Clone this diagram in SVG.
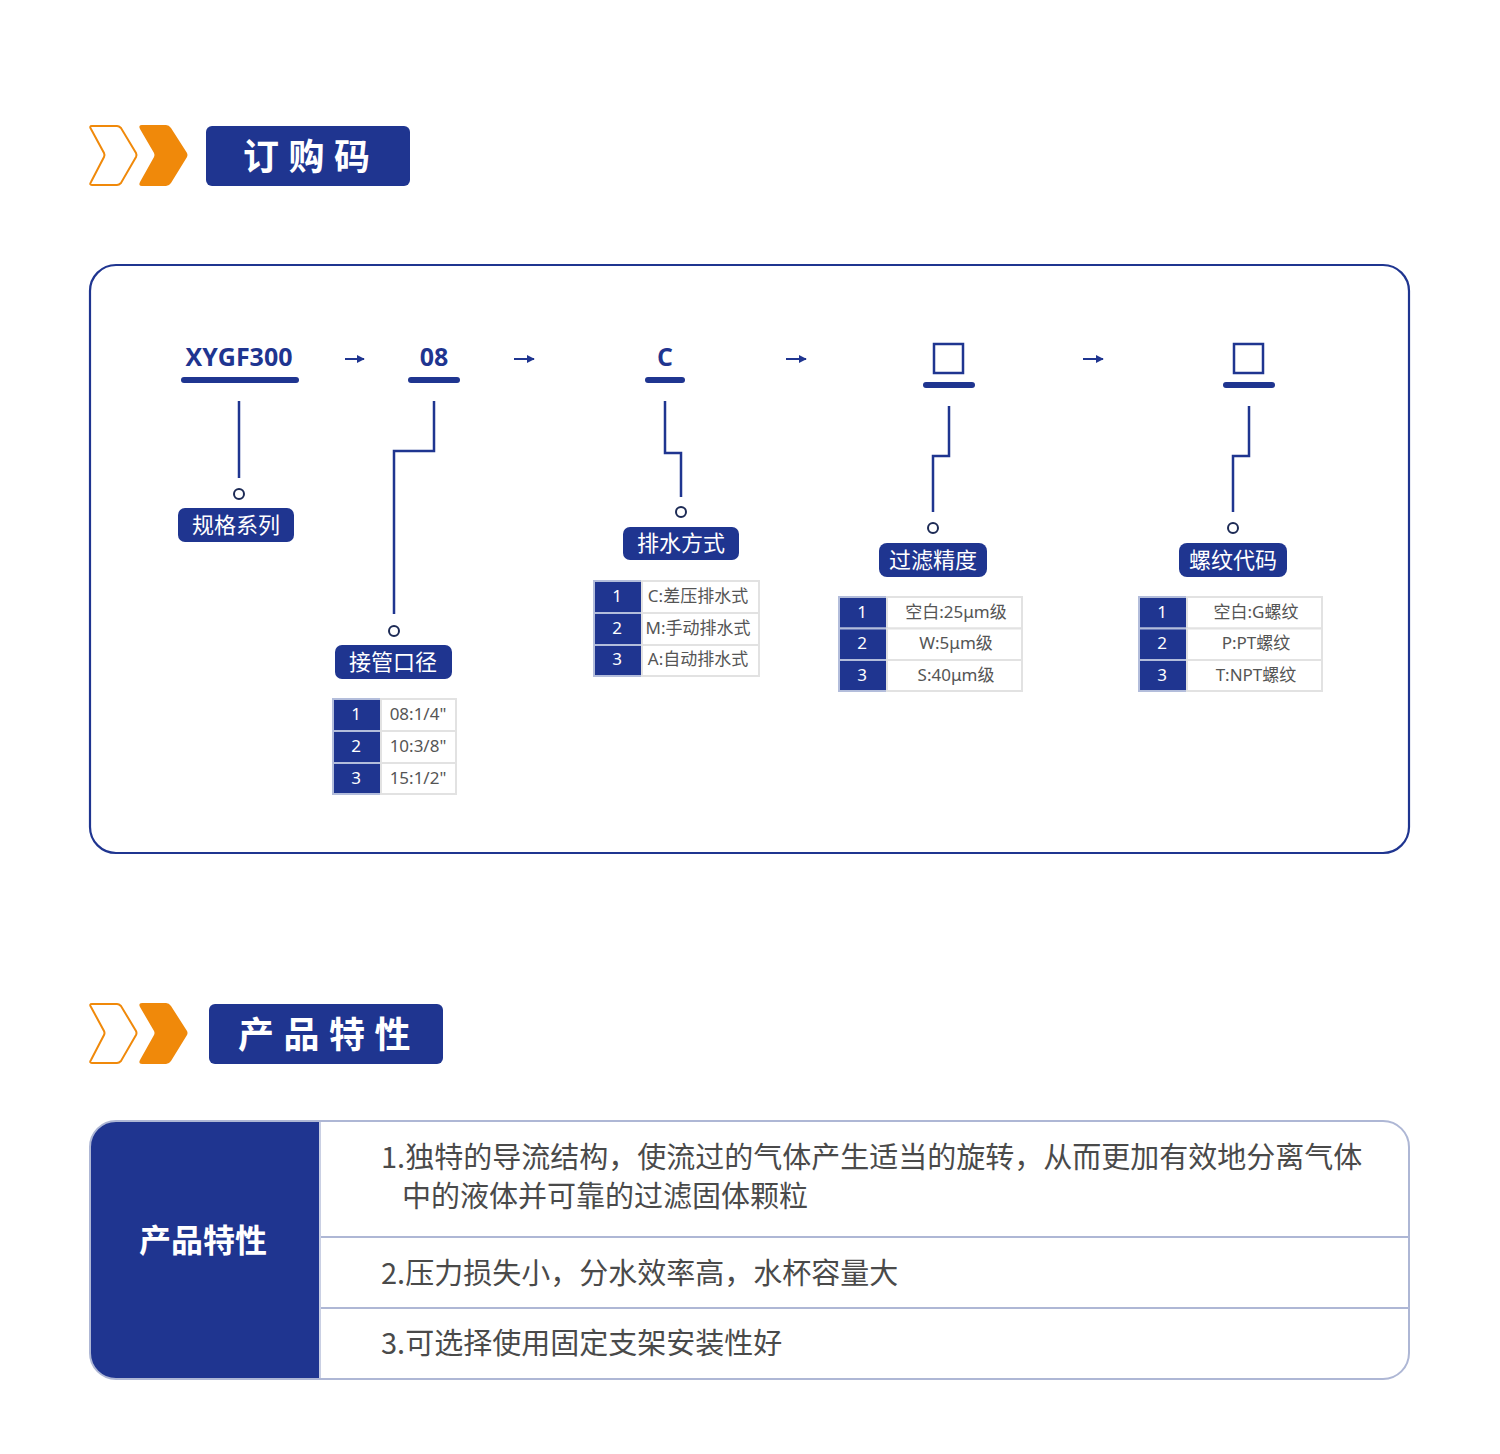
<svg xmlns="http://www.w3.org/2000/svg" width="1500" height="1454" viewBox="0 0 1500 1454">
<defs>
<style>
.navy{fill:#1f3590}
.title{font-family:"Noto Sans CJK SC",sans-serif;font-weight:700;font-size:36px;fill:#fff;letter-spacing:9.5px}
.code{font-family:"Open Sans","Noto Sans",sans-serif;font-weight:700;font-size:25px;fill:#1f3590;text-anchor:middle}
.bar{stroke:#1f3590;stroke-width:6;stroke-linecap:round;fill:none}
.sq{stroke:#1f3590;stroke-width:2.5;fill:none}
.conn{stroke:#1f3590;stroke-width:2.5;fill:none}
.dot{stroke:#1c2a55;stroke-width:2;fill:#fff}
.lbl{fill:#1f3590}
.lbltxt{font-family:"Noto Sans CJK SC",sans-serif;font-size:22px;fill:#fff;text-anchor:middle}
.num{fill:#1f3590;stroke:#b3bddb;stroke-width:2}
.cell{fill:#fff;stroke:#e2e2e2;stroke-width:2}
.numtxt{font-family:"Noto Sans","Noto Sans CJK SC",sans-serif;font-size:17px;fill:#fff;text-anchor:middle}
.celltxt{font-family:"Noto Sans","Noto Sans CJK SC",sans-serif;font-size:17px;fill:#555;text-anchor:middle}
.arrow{stroke:#1f3590;stroke-width:2;fill:none}
.feat{font-family:"Noto Sans CJK SC",sans-serif;font-size:29px;fill:#4a4a4a}
</style>
<marker id="ah" viewBox="0 0 10 10" refX="9" refY="5" markerWidth="4" markerHeight="4" orient="auto" markerUnits="strokeWidth">
<path d="M0 0 L10 5 L0 10 Z" fill="#1f3590"/>
</marker>
</defs>
<rect width="1500" height="1454" fill="#fff"/>

<!-- Header 1 -->
<g id="header-order">
<path d="M92 126 H117 Q119 126 121 128 L136 153 Q137 155 136 157 L121 183 Q119 185 117 185 H92 Q89 185 91 182 L104 157 Q105 155 104 153 L91 129 Q89 126 92 126 Z" fill="none" stroke="#f0890a" stroke-width="2"/>
<path d="M142 125 H166 Q169 125 171 128 L187 153 Q188 155 187 157 L171 183 Q169 186 166 186 H142 Q138 186 140 182 L154 157 Q155 155 154 153 L140 129 Q138 125 142 125 Z" fill="#f0890a"/>
<rect x="206" y="126" width="204" height="60" rx="6" class="navy"/>
<text x="243" y="170" class="title">订购码</text>
</g>

<!-- Main panel -->
<rect id="panel" x="90" y="265" width="1319" height="588" rx="26" fill="#fff" stroke="#1f3590" stroke-width="2.2"/>

<!-- Connectors -->
<g id="connectors">
<path class="conn" d="M239 401 V478"/>
<path class="conn" d="M434 401 V451 H394 V614"/>
<path class="conn" d="M665 401 V453 H681 V497"/>
<path class="conn" d="M949 406 V456 H933 V512"/>
<path class="conn" d="M1249 406 V456 H1233 V512"/>
<line class="arrow" x1="345" y1="359" x2="364" y2="359" marker-end="url(#ah)"/>
<line class="arrow" x1="514" y1="359" x2="534" y2="359" marker-end="url(#ah)"/>
<line class="arrow" x1="786" y1="359" x2="806" y2="359" marker-end="url(#ah)"/>
<line class="arrow" x1="1083" y1="359" x2="1103" y2="359" marker-end="url(#ah)"/>
<circle class="dot" cx="239" cy="494" r="5"/>
<circle class="dot" cx="394" cy="631" r="5"/>
<circle class="dot" cx="681" cy="512" r="5"/>
<circle class="dot" cx="933" cy="528" r="5"/>
<circle class="dot" cx="1233" cy="528" r="5"/>
</g>

<!-- Node: XYGF300 -->
<g id="node-series">
<text x="239" y="366" class="code">XYGF300</text>
<line class="bar" x1="184" y1="380" x2="296" y2="380"/>
<rect class="lbl" x="178" y="508" width="116" height="34" rx="7"/>
<text x="236" y="533" class="lbltxt">规格系列</text>
</g>

<!-- Node: 08 -->
<g id="node-port">
<text x="434" y="366" class="code">08</text>
<line class="bar" x1="411" y1="380" x2="457" y2="380"/>
<rect class="lbl" x="335" y="645" width="117" height="34" rx="7"/>
<text x="393" y="670" class="lbltxt">接管口径</text>
<rect class="num" x="333" y="699" width="48" height="32"/>
<rect class="cell" x="381" y="699" width="75" height="32"/>
<rect class="num" x="333" y="731" width="48" height="32"/>
<rect class="cell" x="381" y="731" width="75" height="32"/>
<rect class="num" x="333" y="763" width="48" height="31"/>
<rect class="cell" x="381" y="763" width="75" height="31"/>
<text x="356" y="720" class="numtxt">1</text>
<text x="356" y="752" class="numtxt">2</text>
<text x="356" y="784" class="numtxt">3</text>
<text x="418" y="720" class="celltxt">08:1/4"</text>
<text x="418" y="752" class="celltxt">10:3/8"</text>
<text x="418" y="784" class="celltxt">15:1/2"</text>
</g>

<!-- Node: C -->
<g id="node-drain">
<text x="665" y="366" class="code">C</text>
<line class="bar" x1="648" y1="380" x2="682" y2="380"/>
<rect class="lbl" x="623" y="527" width="116" height="33" rx="7"/>
<text x="681" y="551" class="lbltxt">排水方式</text>
<rect class="num" x="594" y="581" width="48" height="32"/>
<rect class="cell" x="642" y="581" width="117" height="32"/>
<rect class="num" x="594" y="613" width="48" height="32"/>
<rect class="cell" x="642" y="613" width="117" height="32"/>
<rect class="num" x="594" y="645" width="48" height="31"/>
<rect class="cell" x="642" y="645" width="117" height="31"/>
<text x="617" y="602" class="numtxt">1</text>
<text x="617" y="634" class="numtxt">2</text>
<text x="617" y="665" class="numtxt">3</text>
<text x="698" y="602" class="celltxt">C:差压排水式</text>
<text x="698" y="634" class="celltxt">M:手动排水式</text>
<text x="698" y="665" class="celltxt">A:自动排水式</text>
</g>

<!-- Node: filter precision -->
<g id="node-filter">
<rect class="sq" x="934" y="344" width="29" height="29"/>
<line class="bar" x1="926" y1="385" x2="972" y2="385"/>
<rect class="lbl" x="879" y="543" width="108" height="34" rx="8"/>
<text x="933" y="568" class="lbltxt">过滤精度</text>
<rect class="num" x="839" y="597" width="48" height="31.5"/>
<rect class="cell" x="887" y="597" width="135" height="31.5"/>
<rect class="num" x="839" y="628.5" width="48" height="31.5"/>
<rect class="cell" x="887" y="628.5" width="135" height="31.5"/>
<rect class="num" x="839" y="660" width="48" height="31"/>
<rect class="cell" x="887" y="660" width="135" height="31"/>
<text x="862" y="618" class="numtxt">1</text>
<text x="862" y="649" class="numtxt">2</text>
<text x="862" y="681" class="numtxt">3</text>
<text x="956" y="618" class="celltxt">空白:25μm级</text>
<text x="956" y="649" class="celltxt">W:5μm级</text>
<text x="956" y="681" class="celltxt">S:40μm级</text>
</g>

<!-- Node: thread code -->
<g id="node-thread">
<rect class="sq" x="1234" y="344" width="29" height="29"/>
<line class="bar" x1="1226" y1="385" x2="1272" y2="385"/>
<rect class="lbl" x="1179" y="543" width="108" height="34" rx="8"/>
<text x="1233" y="568" class="lbltxt">螺纹代码</text>
<rect class="num" x="1139" y="597" width="48" height="31.5"/>
<rect class="cell" x="1187" y="597" width="135" height="31.5"/>
<rect class="num" x="1139" y="628.5" width="48" height="31.5"/>
<rect class="cell" x="1187" y="628.5" width="135" height="31.5"/>
<rect class="num" x="1139" y="660" width="48" height="31"/>
<rect class="cell" x="1187" y="660" width="135" height="31"/>
<text x="1162" y="618" class="numtxt">1</text>
<text x="1162" y="649" class="numtxt">2</text>
<text x="1162" y="681" class="numtxt">3</text>
<text x="1256" y="618" class="celltxt">空白:G螺纹</text>
<text x="1256" y="649" class="celltxt">P:PT螺纹</text>
<text x="1256" y="681" class="celltxt">T:NPT螺纹</text>
</g>

<!-- Header 2 -->
<g id="header-features">
<path d="M92 1004 H117 Q119 1004 121 1006 L136 1031 Q137 1033 136 1035 L121 1061 Q119 1063 117 1063 H92 Q89 1063 91 1060 L104 1035 Q105 1033 104 1031 L91 1007 Q89 1004 92 1004 Z" fill="none" stroke="#f0890a" stroke-width="2"/>
<path d="M142 1003 H166 Q169 1003 171 1006 L187 1031 Q188 1033 187 1035 L171 1061 Q169 1064 166 1064 H142 Q138 1064 140 1060 L154 1035 Q155 1033 154 1031 L140 1007 Q138 1003 142 1003 Z" fill="#f0890a"/>
<rect x="209" y="1004" width="234" height="60" rx="6" class="navy"/>
<text x="238" y="1048" class="title" letter-spacing="10.5">产品特性</text>
</g>

<!-- Features table -->
<g id="features-table">
<rect x="90" y="1121" width="1319" height="258" rx="26" fill="#fff"/>
<path d="M320 1121 H116 A26 26 0 0 0 90 1147 V1353 A26 26 0 0 0 116 1379 H320 Z" class="navy"/>
<line x1="320" y1="1237" x2="1409" y2="1237" stroke="#aeb7d5" stroke-width="2"/>
<line x1="320" y1="1308" x2="1409" y2="1308" stroke="#aeb7d5" stroke-width="2"/>
<line x1="320" y1="1121" x2="320" y2="1379" stroke="#c9cfe3" stroke-width="2"/>
<rect x="90" y="1121" width="1319" height="258" rx="26" fill="none" stroke="#aeb7d5" stroke-width="2"/>
<text x="203" y="1252" font-family="Noto Sans CJK SC,sans-serif" font-weight="700" font-size="32" fill="#fff" text-anchor="middle">产品特性</text>
<text x="381" y="1168" class="feat">1.独特的导流结构，使流过的气体产生适当的旋转，从而更加有效地分离气体</text>
<text x="402" y="1207" class="feat">中的液体并可靠的过滤固体颗粒</text>
<text x="381" y="1284" class="feat">2.压力损失小，分水效率高，水杯容量大</text>
<text x="381" y="1354" class="feat">3.可选择使用固定支架安装性好</text>
</g>
</svg>
